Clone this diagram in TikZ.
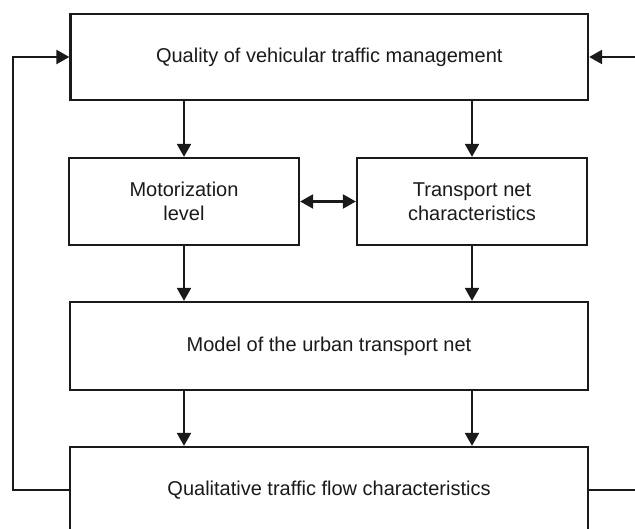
\documentclass[tikz,border=0pt]{standalone}
\usepackage{fontspec}
\setmainfont{Liberation Sans}
\usetikzlibrary{arrows.meta}
\definecolor{ink}{HTML}{1A1A1A}
\begin{document}
\begin{tikzpicture}[x=1pt,y=-1pt,
  tip/.tip={Triangle[length=13pt,width=14pt]},
  box/.style={draw=ink, line width=2.3pt, fill=white, inner sep=0pt, text=ink,
    align=center, font=\fontsize{20}{24.5}\selectfont},
  conn/.style={draw=ink, line width=2.3pt, -tip},
  plain/.style={draw=ink, line width=2.3pt}]
\useasboundingbox (0,0) rectangle (635,529);
\clip (0,0) rectangle (635,529);
\node[box, minimum width=517.5pt, minimum height=86pt] (top) at (329.25,57) {Quality of vehicular traffic management};
\node[box, minimum width=230pt, minimum height=87pt] (mot) at (184,201.5) {Motorization\\level};
\node[box, minimum width=230pt, minimum height=87pt] (tra) at (472,201.5) {Transport net\\characteristics};
\node[box, minimum width=518pt, minimum height=88pt] (model) at (329,346) {Model of the urban transport net};
\node[box, minimum width=518pt, minimum height=100pt] (qual) at (329,497) {\raisebox{18pt}{Qualitative traffic flow characteristics}};
\coordinate (qleft) at (70,490);
\coordinate (qright) at (588,490);
\coordinate (lcorner) at (13,490);
\coordinate (redge) at (640,490);
\coordinate (tin) at (640,57);
\draw[conn] (top.south -| mot.north) -- (mot.north);
\draw[conn] (top.south -| tra.north) -- (tra.north);
\draw[conn] (mot.south) -- (model.north -| mot.south);
\draw[conn] (tra.south) -- (model.north -| tra.south);
\draw[conn] (model.south -| mot.south) -- (qual.north -| mot.south);
\draw[conn] (model.south -| tra.south) -- (qual.north -| tra.south);
\draw[plain, tip-tip] (mot.east) -- (tra.west);
\draw[conn] (qleft) -- (lcorner) |- (top.west);
\draw[plain] (qright) -- (redge);
\draw[conn] (tin) -- (top.east);
\end{tikzpicture}
\end{document}
